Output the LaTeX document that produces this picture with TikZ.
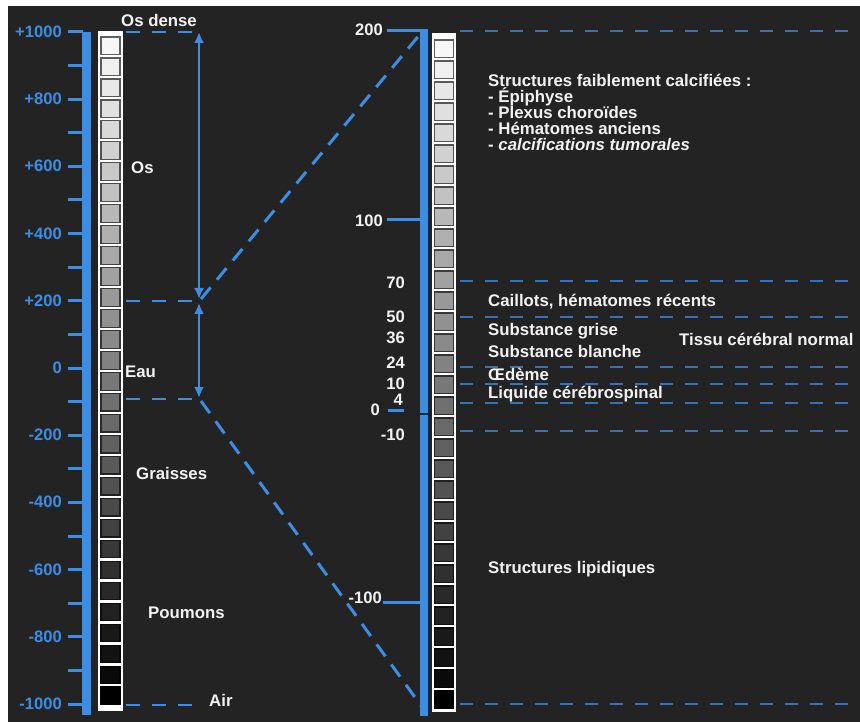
\documentclass[tikz,border=0pt]{standalone}
\usepackage{fontspec}
\setmainfont{Liberation Sans}
\usetikzlibrary{arrows.meta}
\definecolor{bg}{HTML}{232323}
\definecolor{hublue}{HTML}{3A8EE6}
\definecolor{dashblue}{HTML}{3374BC}
\definecolor{txt}{HTML}{F2F2F2}
\tikzset{
  lbl/.style={font=\fontsize{16.8}{16.8}\selectfont\bfseries, text=txt, inner sep=0pt, anchor=base west},
  num/.style={font=\fontsize{16.6}{16.6}\selectfont\bfseries, text=txt, inner sep=0pt, anchor=base east},
  bnum/.style={num, text=hublue},
  tick/.style={hublue, line width=3pt},
  hdash/.style={dashblue, line width=1.6pt, dash pattern=on 13pt off 12pt},
  ldash/.style={hublue, line width=1.8pt, dash pattern=on 14pt off 12pt},
  diag/.style={hublue, line width=3pt, dash pattern=on 15pt off 10pt},
  dblarrow/.style={hublue, line width=2.5pt, {Latex[length=11pt,width=10pt]}-{Latex[length=11pt,width=10pt]}},
}
\begin{document}
\begin{tikzpicture}[x=1pt,y=-1pt]
\useasboundingbox (0,0) rectangle (860,722);
\fill[white] (0,0) rectangle (860,722);
\fill[bg] (8,6) rectangle (860,722);

% ---------- left scale ----------
\fill[hublue] (82,32) rectangle (91,715);
\foreach \i in {0,...,20}{
  \pgfmathsetmacro\yy{32+\i*33.6}
  \coordinate (lt\i a) at (68,\yy);
  \coordinate (lt\i b) at (83,\yy);
  \draw[tick] (lt\i a) -- (lt\i b);
}
\foreach \t [count=\i from 0] in {+1000,+800,+600,+400,+200,0,-200,-400,-600,-800,-1000}{
  \pgfmathsetmacro\yy{32+\i*67.2+5.5}
  \node[bnum] (ln\i) at (62,\yy) {\t};
}

% left grey column
\fill[white] (98,31) rectangle (123,711);
\foreach \i in {0,...,31}{
  \pgfmathtruncatemacro\k{3+\i*97/31}
  \pgfmathtruncatemacro\d{min(100,62+0.38*\k)}
  \pgfmathsetmacro\yt{37+\i*20.97}
  \filldraw[fill=black!\k, draw=black!\d, line width=1.2pt] (101,\yt) rectangle (120,\yt+17.6);
}

% right grey column
\fill[white] (432,33) rectangle (456,712);
\foreach \i in {0,...,31}{
  \pgfmathtruncatemacro\k{3+\i*97/31}
  \pgfmathtruncatemacro\d{min(100,62+0.38*\k)}
  \pgfmathsetmacro\yt{40+\i*21}
  \filldraw[fill=black!\k, draw=black!\d, line width=1.2pt] (434.5,\yt) rectangle (453.5,\yt+17.6);
}

% ---------- left dashed guides ----------
\foreach \y [count=\i] in {32,301,399,705}{
  \coordinate (lg\i a) at (126,\y);
  \coordinate (lg\i b) at (192,\y);
  \draw[ldash] (lg\i a) -- (lg\i b);
}

% arrows
\coordinate (A1) at (199,32);
\coordinate (A2) at (199,299);
\coordinate (A3) at (199,303);
\coordinate (A4) at (199,398);
\draw[dblarrow] (A1) -- (A2);
\draw[dblarrow] (A3) -- (A4);

% zoom diagonals
\coordinate (D1) at (201,299);
\coordinate (D2) at (421,33);
\coordinate (D3) at (201,401);
\coordinate (D4) at (422,707);
\draw[diag] (D1) -- (D2);
\draw[diag] (D3) -- (D4);

% ---------- right scale ----------
\fill[hublue] (420,32) rectangle (428,716);
\coordinate (sep1) at (420,414);
\coordinate (sep2) at (428,414);
\draw[bg, line width=1.5pt] (sep1) -- (sep2);

\coordinate (r200a) at (387,31);  \coordinate (r200b) at (428,31);
\coordinate (r100a) at (387,220); \coordinate (r100b) at (421,220);
\coordinate (rm100a) at (383,602); \coordinate (rm100b) at (428,602);
\coordinate (r0a) at (388,410); \coordinate (r0b) at (404,410);
\draw[tick] (r200a) -- (r200b);
\draw[tick] (r100a) -- (r100b);
\draw[tick] (rm100a) -- (rm100b);
\draw[tick] (r0a) -- (r0b);

\node[num] (n200) at (383,36) {200};
\node[num] (n100) at (383,227) {100};
\node[num] (n70) at (405,289) {70};
\node[num] (n50) at (405,323) {50};
\node[num] (n36) at (405,344) {36};
\node[num] (n24) at (405,368) {24};
\node[num] (n10) at (405,389) {10};
\node[num] (n4) at (403,405) {4};
\node[num] (n0) at (380,415) {0};
\node[num] (nm10) at (405,440) {-10};
\node[num] (nm100) at (382,603) {-100};

% right dashed guides
\foreach \y [count=\i] in {31,281,317,367,384,403,431,704}{
  \coordinate (rg\i a) at (460,\y);
  \coordinate (rg\i b) at (860,\y);
  \draw[hdash] (rg\i a) -- (rg\i b);
}

% ---------- texts ----------
\node[lbl] (osdense) at (121,27) {Os dense};
\node[lbl] (os) at (131,174) {Os};
\node[lbl] (eau) at (125,377) {Eau};
\node[lbl] (graisses) at (136,479) {Graisses};
\node[lbl] (poumons) at (148,618) {Poumons};
\node[lbl] (air) at (209,706) {Air};

\node[lbl] (s1) at (488,87) {Structures faiblement calcifiées :};
\node[lbl] (s2) at (488,103) {- Épiphyse};
\node[lbl] (s3) at (488,119) {- Plexus choroïdes};
\node[lbl] (s4) at (488,135) {- Hématomes anciens};
\node[lbl] (s5) at (488,151) {- \textit{calcifications tumorales}};
\node[lbl] (caillots) at (488,307) {Caillots, hématomes récents};
\node[lbl] (sgrise) at (488,335) {Substance grise};
\node[lbl] (sblanche) at (488,357) {Substance blanche};
\node[lbl] (tissu) at (679,345) {Tissu cérébral normal};
\node[lbl] (oedeme) at (488,380) {Œdème};
\node[lbl] (lcs) at (488,398) {Liquide cérébrospinal};
\node[lbl] (lip) at (488,573) {Structures lipidiques};
\end{tikzpicture}
\end{document}
